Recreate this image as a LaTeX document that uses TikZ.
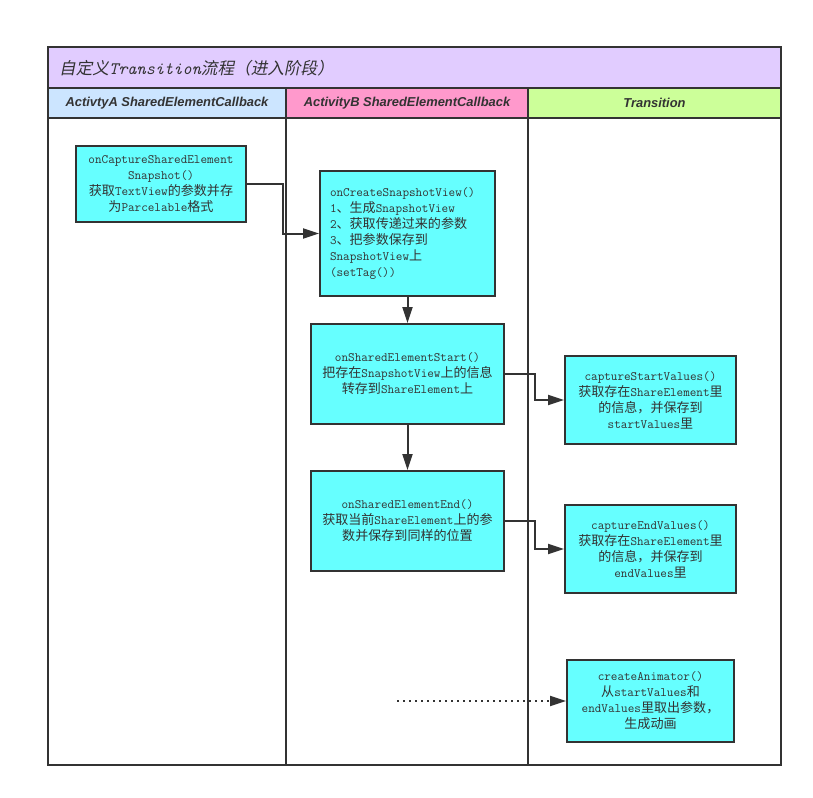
\documentclass[tikz,border=0pt]{standalone}
\usepackage{fontspec}
\newfontfamily\zhfont{Noto Sans CJK SC}[Scale=1.02]
\newfontfamily\zhitfont{Noto Sans CJK SC}[Scale=0.95,FakeSlant=0.2]
\newfontfamily\hdrfont{Liberation Sans}
\usetikzlibrary{arrows.meta}
\newcommand\zh[1]{{\zhfont #1}}
\newcommand\zhi[1]{{\zhitfont #1}}
\definecolor{linecol}{HTML}{333333}
\definecolor{titlecol}{HTML}{E1CCFF}
\definecolor{hdracol}{HTML}{CCE5FF}
\definecolor{hdrbcol}{HTML}{FF99CC}
\definecolor{hdrccol}{HTML}{CCFF99}
\definecolor{boxcol}{HTML}{66FFFF}
\begin{document}
\begin{tikzpicture}[x=1pt,y=-1pt,
  frame/.style={draw=linecol,line width=2pt},
  hdr/.style={font=\hdrfont\bfseries\itshape\fontsize{12.9}{15}\selectfont,text=linecol,inner sep=0pt},
  box/.style={draw=linecol,line width=2pt,fill=boxcol,inner sep=0pt,align=center,
    font=\fontsize{12.8}{16}\selectfont\ttfamily,text=linecol},
  conn/.style={draw=linecol,line width=2pt,-{Triangle[length=16pt,width=10pt]}},
]
\useasboundingbox (0,0) rectangle (813,797);
\fill[white] (0,0) rectangle (813,797);
% bands
\fill[titlecol] (48,47) rectangle (781,88);
\fill[hdracol] (48,88) rectangle (286,118);
\fill[hdrbcol] (286,88) rectangle (528,118);
\fill[hdrccol] (528,88) rectangle (781,118);
\draw[frame] (48,47) rectangle (781,765);
\draw[frame] (48,88) -- (781,88);
\draw[frame] (48,118) -- (781,118);
\draw[frame] (286,88) -- (286,765);
\draw[frame] (528,88) -- (528,765);
% title and headers
\node[anchor=west,inner sep=0pt,text=linecol,font=\fontsize{17.5}{20}\selectfont\ttfamily\itshape] (title) at (59,68)
  {\zhi{自定义}Transition\zhi{流程（进入阶段）}};
\node[hdr] (ha) at (167,103) {ActivtyA SharedElementCallback};
\node[hdr] (hb) at (407,103) {ActivityB SharedElementCallback};
\node[hdr] (hc) at (654.5,103) {Transition};
% boxes
\node[box,minimum width=170pt,minimum height=76pt] (b1) at (161,184)
  {onCaptureSharedElement\\Snapshot()\\\zh{获取}TextView\zh{的参数并存}\\\zh{为}Parcelable\zh{格式}};
\node[box,minimum width=175pt,minimum height=125pt,align=left,text width=155pt] (b2) at (407.5,233.5)
  {onCreateSnapshotView()\\1\zh{、生成}SnapshotView\\2\zh{、获取传递过来的参数}\\3\zh{、把参数保存到}\\SnapshotView\zh{上}\\(setTag())};
\node[box,minimum width=193pt,minimum height=100pt] (b3) at (407.5,374)
  {onSharedElementStart()\\\zh{把存在}SnapshotView\zh{上的信息}\\\zh{转存到}ShareElement\zh{上}};
\node[box,minimum width=193pt,minimum height=100pt] (b4) at (407.5,521)
  {onSharedElementEnd()\\\zh{获取当前}ShareElement\zh{上的参}\\\zh{数并保存到同样的位置}};
\node[box,minimum width=171pt,minimum height=88pt] (b5) at (650.5,400)
  {captureStartValues()\\\zh{获取存在}ShareElement\zh{里}\\\zh{的信息，并保存到}\\startValues\zh{里}};
\node[box,minimum width=171pt,minimum height=88pt] (b6) at (650.5,549)
  {captureEndValues()\\\zh{获取存在}ShareElement\zh{里}\\\zh{的信息，并保存到}\\endValues\zh{里}};
\node[box,minimum width=167pt,minimum height=82pt] (b7) at (650.5,701)
  {createAnimator()\\\zh{从}startValues\zh{和}\\endValues\zh{里取出参数，}\\\zh{生成动画}};
% connectors
\draw[conn] (b1.east) -- ++(36,0) |- (b2.west);
\draw[conn] (b2.south) -- (b3.north);
\draw[conn] (b3.south) -- (b4.north);
\draw[conn] (b3.east) -- ++(30,0) |- (b5.west);
\draw[conn] (b4.east) -- ++(30,0) |- (b6.west);
\coordinate (ds) at (397,701);
\draw[conn,dash pattern=on 2pt off 4pt] (ds) -- (b7.west);
\end{tikzpicture}
\end{document}
